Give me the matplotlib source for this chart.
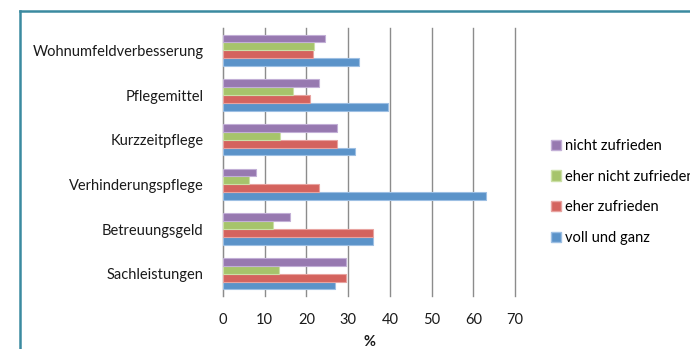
import matplotlib
matplotlib.use("Agg")
import matplotlib.pyplot as plt
from matplotlib.lines import Line2D
from matplotlib.patches import Patch
import numpy as np

categories = ["Sachleistungen", "Betreuungsgeld", "Verhinderungspflege",
              "Kurzzeitpflege", "Pflegemittel", "Wohnumfeldverbesserung"]
series_names = ["voll und ganz", "eher zufrieden", "eher nicht zufrieden", "nicht zufrieden"]
voll_und_ganz = [26.9, 35.9, 63.0, 31.7, 39.6, 32.5]
eher_zufrieden = [29.6, 35.9, 23.1, 27.3, 20.8, 21.6]
eher_nicht_zufrieden = [13.4, 12.0, 6.2, 13.6, 16.7, 21.7]
nicht_zufrieden = [29.6, 16.0, 7.8, 27.3, 22.9, 24.4]
x_ticks = [0, 10, 20, 30, 40, 50, 60, 70]
x_label = "%"

colors = ["#5b93c9", "#d4635e", "#a6c46b", "#9779b0"]
edges = ["#9dbfe3", "#e8a3a0", "#cbe0a6", "#c2afd6"]

plt.rcParams["font.family"] = ["Lato", "DejaVu Sans"]
W, H = 690, 349
fig = plt.figure(figsize=(W / 100, H / 100), dpi=100)
fig.patch.set_facecolor("white")

# outer frame (top and left edges)
fig.add_artist(Line2D([20 / W, 1.0], [1 - 10.5 / H, 1 - 10.5 / H],
                      transform=fig.transFigure, color="#3b8aa0", lw=1.8))
fig.add_artist(Line2D([20 / W, 20 / W], [0.0, 1 - 10.5 / H],
                      transform=fig.transFigure, color="#3b8aa0", lw=1.8))

left, right, top, bottom = 223, 515, 28, 296
ax = fig.add_axes([left / W, 1 - bottom / H, (right - left) / W, (bottom - top) / H])

y = np.arange(len(categories))
bh = 0.177
data = [voll_und_ganz, eher_zufrieden, eher_nicht_zufrieden, nicht_zufrieden]
for i, (vals, c, e) in enumerate(zip(data, colors, edges)):
    ax.barh(y + (i - 1.5) * bh, vals, height=bh, color=c, edgecolor=e,
            linewidth=0.8, zorder=3)

ax.set_xlim(0, 70)
ax.set_ylim(-0.5, len(categories) - 0.5)
ax.set_xticks(x_ticks)
ax.set_xticklabels([str(t) for t in x_ticks])
ax.set_yticks(y)
ax.set_yticklabels(categories)
ax.tick_params(axis="both", length=0, labelsize=10.5, colors="#1a1a1a")
ax.tick_params(axis="y", pad=14)
ax.tick_params(axis="x", pad=12)
ax.grid(axis="x", color="#8c8c8c", lw=1.0, zorder=0)
for gl in ax.get_xgridlines():
    gl.set_clip_on(False)
for s in ["top", "right", "bottom"]:
    ax.spines[s].set_visible(False)
ax.spines["left"].set_color("#8c8c8c")
ax.set_xlabel(x_label, fontsize=10.5, fontweight="bold", labelpad=6, color="#1a1a1a")

handles = [Patch(facecolor=colors[i], edgecolor=edges[i]) for i in [3, 2, 1, 0]]
labels = [series_names[i] for i in [3, 2, 1, 0]]
leg = fig.legend(handles, labels, loc="upper left",
                 bbox_to_anchor=(545 / W, 1 - 133 / H), frameon=False,
                 fontsize=10.5, handlelength=0.7, handleheight=0.7,
                 handletextpad=0.25, labelspacing=1.15, borderaxespad=0)

fig.savefig("out.png", dpi=100, facecolor="white")
